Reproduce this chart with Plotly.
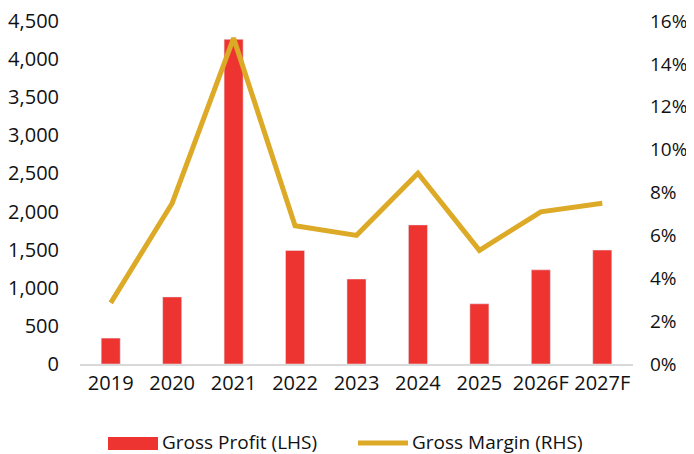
import plotly.graph_objects as go

years = ["2019", "2020", "2021", "2022", "2023", "2024", "2025", "2026F", "2027F"]
gross_profit = [340, 880, 4260, 1490, 1115, 1825, 790, 1235, 1495]
gross_margin = [2.85, 7.5, 15.2, 6.45, 6.0, 8.9, 5.3, 7.1, 7.5]
left_ticks = [0, 500, 1000, 1500, 2000, 2500, 3000, 3500, 4000, 4500]
right_ticks = [0, 2, 4, 6, 8, 10, 12, 14, 16]
right_labels = [f"{v}%" for v in right_ticks]

RED = "#EE3431"
GOLD = "#DDAA27"
FONT = "Open Sans"

OFF = 8  # page body margin offset
W, H = 694 - OFF, 454 - OFF
# desired screen positions of plot area
SL, SR, ST, SB = 80, 633, 21, 364
L, T = SL - OFF, ST - OFF
R = W - (SR - OFF)
B = H - (SB - OFF)
pw, ph = W - L - R, H - T - B

def px_x(px):
    return (px - SL) / pw

def px_y(py):
    return (SB - py) / ph

fig = go.Figure()
fig.add_trace(go.Bar(x=years, y=gross_profit, marker_color=RED, name="Gross Profit (LHS)",
                     showlegend=False))
fig.add_trace(go.Scatter(x=years, y=gross_margin, yaxis="y2", mode="lines",
                         line=dict(color=GOLD, width=5), name="Gross Margin (RHS)",
                         showlegend=False))

fig.update_layout(
    width=W, height=H,
    margin=dict(l=L, r=R, t=T, b=B),
    plot_bgcolor="white", paper_bgcolor="white",
    bargap=0.69,
    font=dict(family=FONT, size=20, color="#111111"),
    xaxis=dict(showgrid=False, showline=True, linecolor="#D9D9D9", linewidth=2,
               ticks="", tickfont=dict(size=20)),
    yaxis=dict(range=[0, 4500], tickvals=left_ticks, tickformat=",", showgrid=False,
               zeroline=False, ticks="", ticklabelstandoff=20, automargin=False,
               ticklabeloverflow="allow"),
    yaxis2=dict(range=[0, 16], tickvals=right_ticks, ticktext=right_labels, overlaying="y",
                side="right", showgrid=False, zeroline=False, ticks="",
                tickfont=dict(size=19),
                ticklabelstandoff=16, automargin=False, ticklabeloverflow="allow"),
)

# manual legend
fig.add_shape(type="rect", xref="paper", yref="paper",
              x0=px_x(108), x1=px_x(158), y0=px_y(450), y1=px_y(437),
              fillcolor=RED, line_width=0)
fig.add_annotation(text="Gross Profit (LHS)", xref="paper", yref="paper",
                   x=px_x(160), y=px_y(442), xanchor="left", yanchor="middle",
                   showarrow=False, font=dict(size=19))
fig.add_shape(type="line", xref="paper", yref="paper",
              x0=px_x(358), x1=px_x(408), y0=px_y(443), y1=px_y(443),
              line=dict(color=GOLD, width=5))
fig.add_annotation(text="Gross Margin (RHS)", xref="paper", yref="paper",
                   x=px_x(410), y=px_y(442), xanchor="left", yanchor="middle",
                   showarrow=False, font=dict(size=19))

fig.write_html("out.html")
